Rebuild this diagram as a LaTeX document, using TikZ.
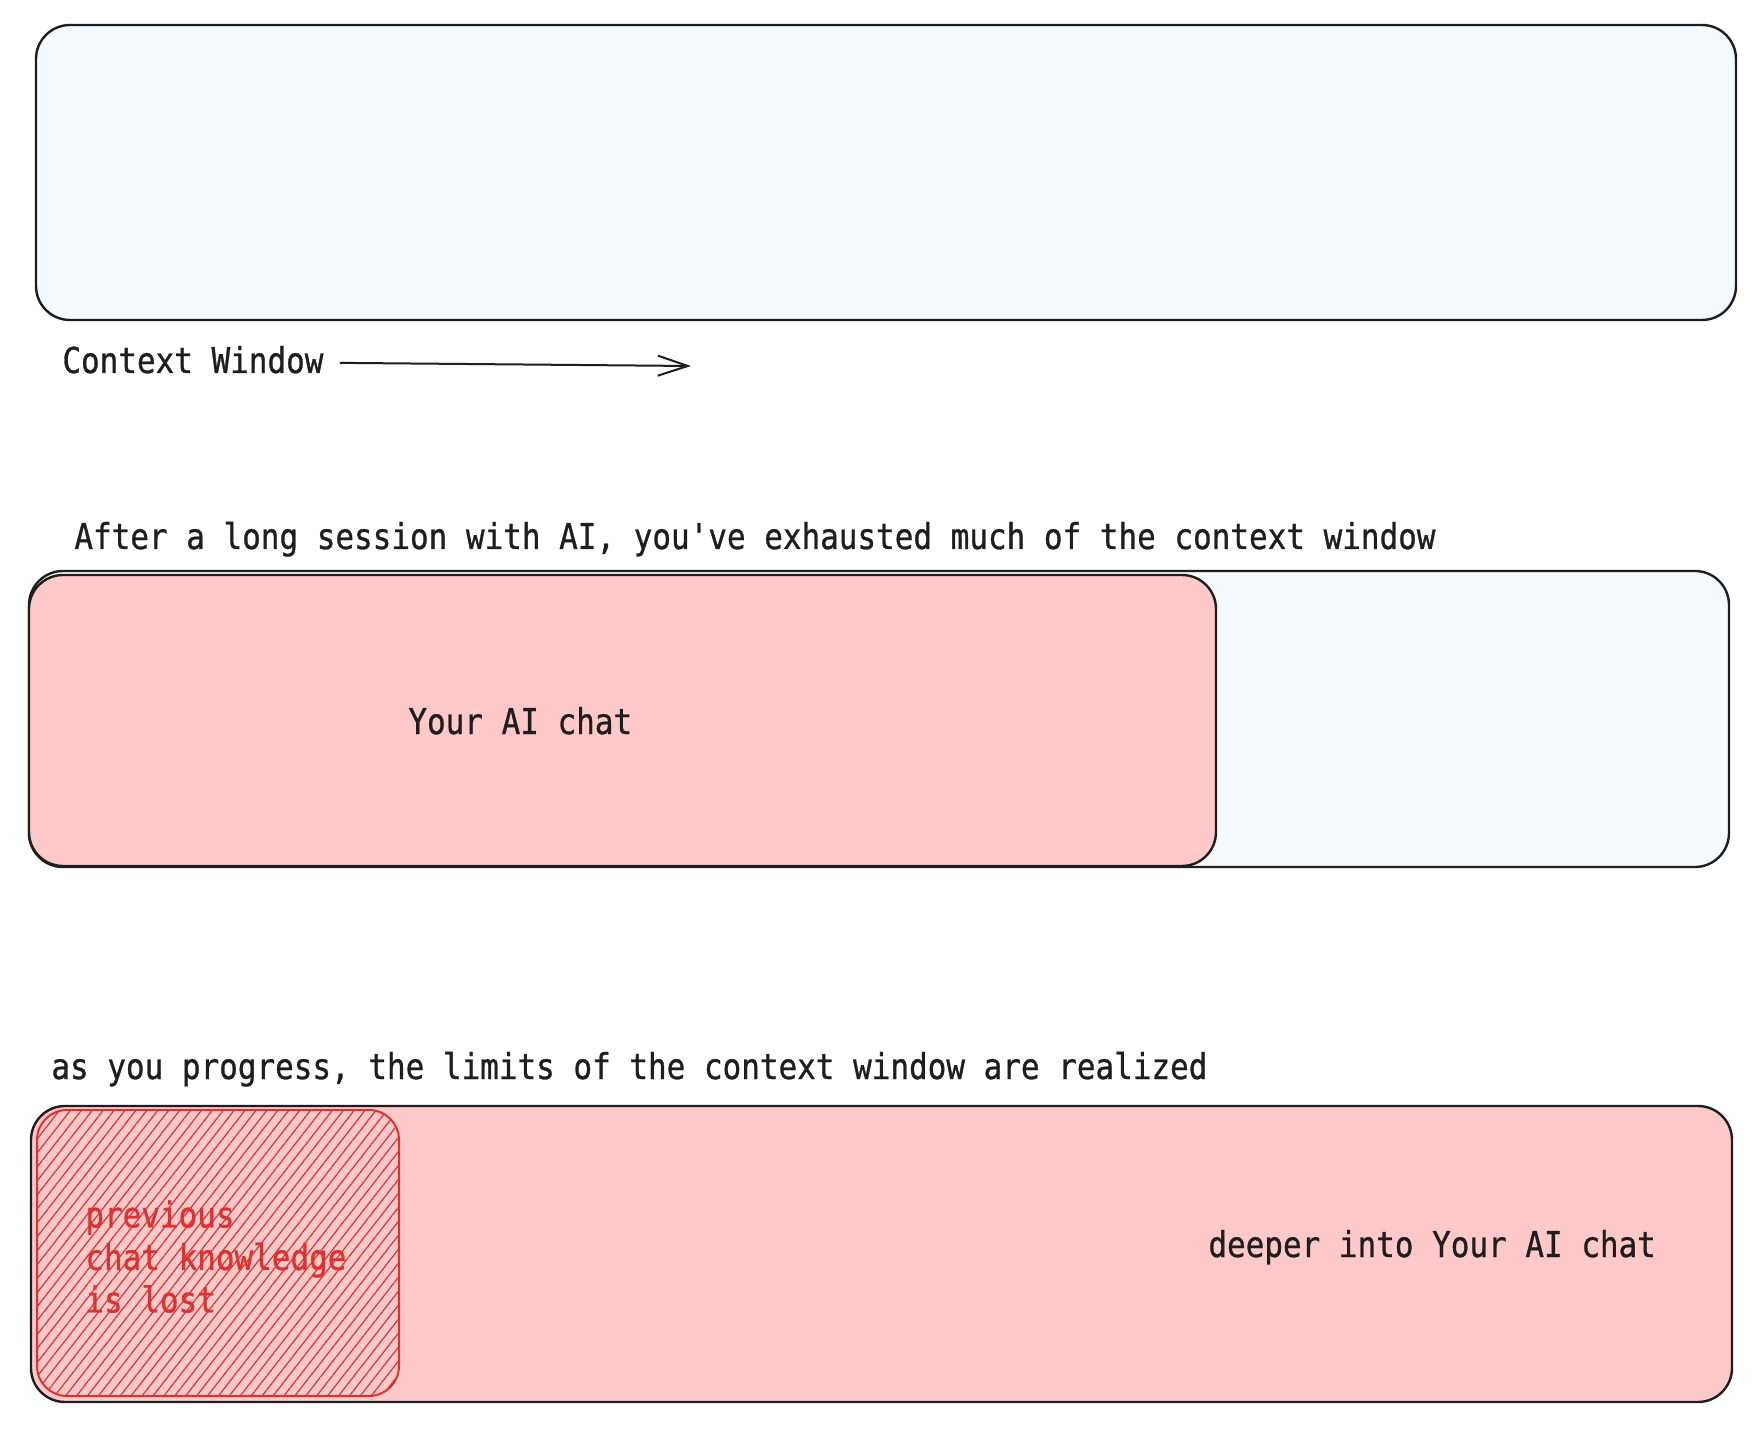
\documentclass[tikz,border=0pt]{standalone}
\usepackage{fontspec}
\newfontfamily\handfont[FakeStretch=0.87,FakeBold=0.8]{DejaVu Sans Mono}
\usetikzlibrary{arrows.meta,patterns.meta}
\definecolor{strokec}{HTML}{1E1E1E}
\definecolor{bluefill}{HTML}{F5FAFE}
\definecolor{pinkfill}{HTML}{FFC9C9}
\definecolor{redc}{HTML}{E03131}
\tikzset{
  winbox/.style={draw=strokec, line width=1.2pt, rounded corners=17pt, fill=bluefill, inner sep=0pt},
  chatbox/.style={draw=strokec, line width=1.2pt, rounded corners=17pt, fill=pinkfill, inner sep=0pt},
  lostbox/.style={draw=redc, line width=1pt, rounded corners=15pt, inner sep=0pt,
     preaction={fill=pinkfill}, pattern={Lines[angle=52,distance=4.3pt,line width=0.6pt]}, pattern color=redc},
  lbl/.style={font=\handfont\fontsize{17.8}{21.25}\selectfont, text=strokec, inner sep=0pt, anchor=base west},
  redlbl/.style={font=\handfont\fontsize{17.8}{21.25}\selectfont, text=redc, inner sep=0pt, anchor=north west, align=left},
  conn/.style={draw=strokec, line width=1pt, -{Straight Barb[length=15pt,width=10pt,line width=1pt]}}
}
\begin{document}
\begin{tikzpicture}[x=0.5pt,y=-0.5pt]
\useasboundingbox[fill=white] (0,0) rectangle (1762,1438);
% top window
\node[winbox, minimum width=850pt, minimum height=147.5pt] (win1) at (886,172.5) {};
\node[lbl] (ctx) at (62,373) {Context Window};
\coordinate (arrend) at (691,366);
\draw[conn, shorten <=8pt] ([yshift=-1.5pt]ctx.east) -- (arrend);
% second
\node[lbl] (t2) at (74,549) {After a long session with AI, you've exhausted much of the context window};
\node[winbox, minimum width=850pt, minimum height=148pt] (win2) at (879,719) {};
\node[chatbox, minimum width=593.5pt, minimum height=145.5pt] (chat2) at (622.5,720.5) {};
\node[lbl] (chatlbl) at (408,734) {Your AI chat};
% third
\node[lbl] (t3) at (51,1079) {as you progress, the limits of the context window are realized};
\node[chatbox, minimum width=850.5pt, minimum height=148pt] (win3) at (881.5,1254) {};
\node[lostbox, minimum width=181pt, minimum height=143pt] (lost) at (218,1253) {};
\node[redlbl] (lostlbl) at (85,1200) {previous\\chat knowledge\\is lost};
\node[lbl] (deeper) at (1208,1257) {deeper into Your AI chat};
\end{tikzpicture}
\end{document}
